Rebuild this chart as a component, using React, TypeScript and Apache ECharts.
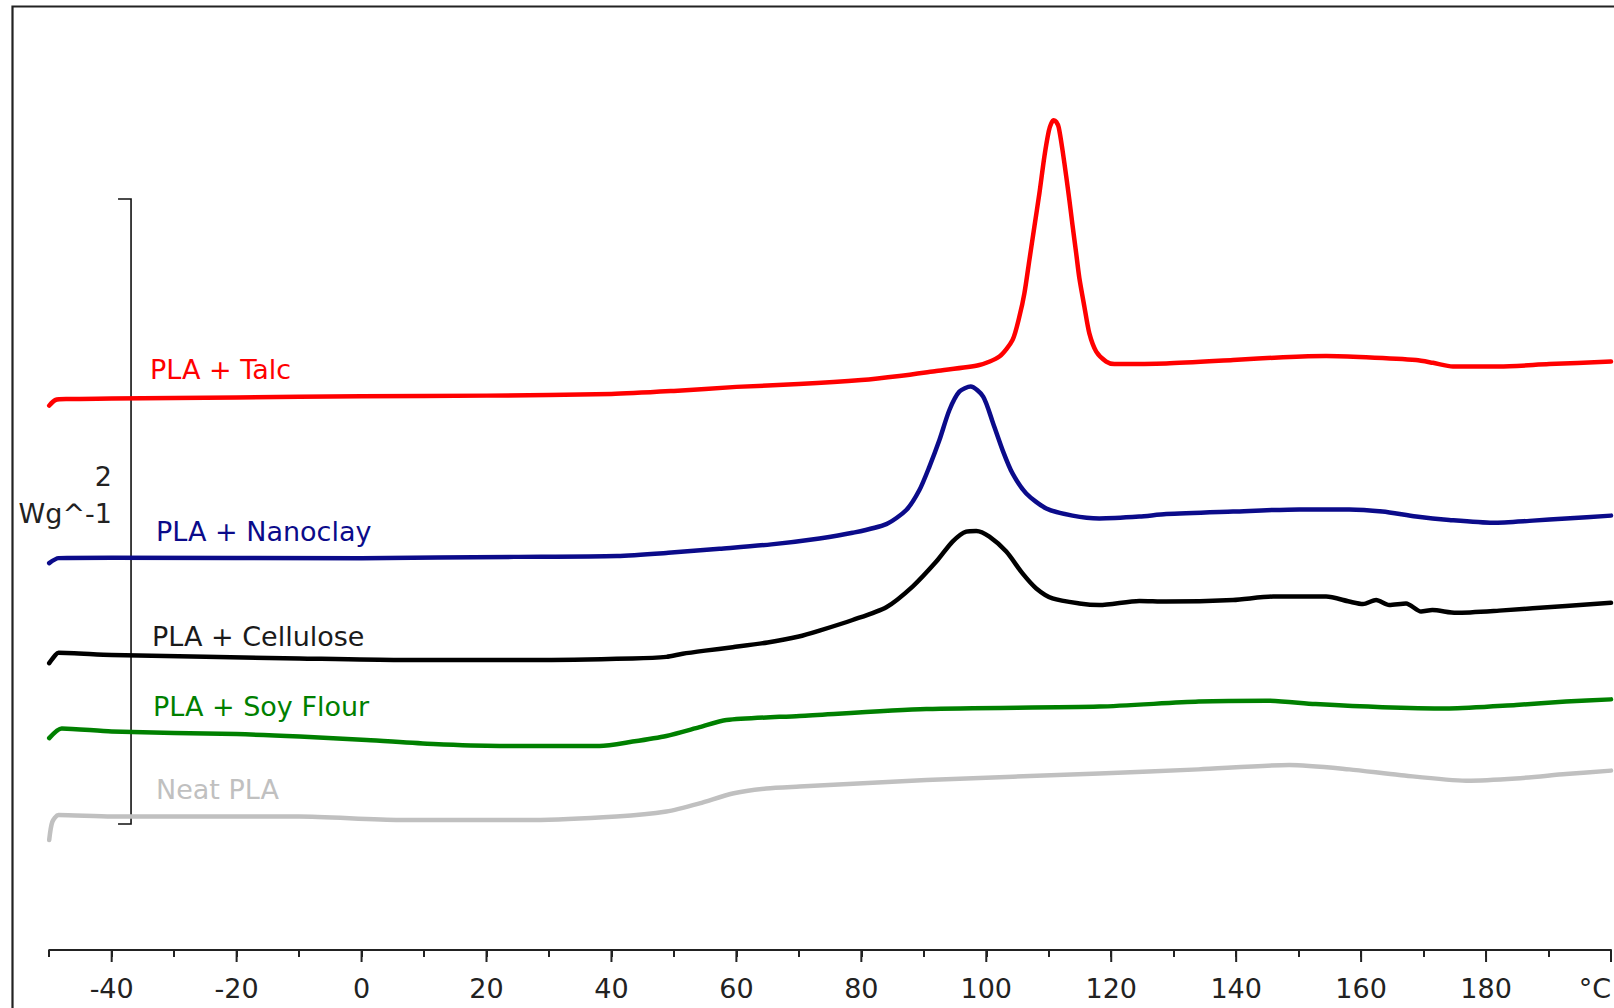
import React, { useEffect, useRef } from "react";
import * as echarts from "echarts";

// Temperature (°C) / heat flow (W/g, stacked offsets, 2 W/g scale bar)
const talc: [number, number][] = [
  [-50, 1.742], [-49, 1.760], [-47, 1.763], [-40, 1.765], [-20, 1.768], [0, 1.772], [20, 1.774],
  [40, 1.779], [50, 1.789], [60, 1.802], [70, 1.811], [80, 1.824], [86.1, 1.837], [92, 1.853],
  [98.9, 1.872], [102.1, 1.899], [104.2, 1.952], [105.3, 2.027], [106.1, 2.101], [106.9, 2.208],
  [107.7, 2.315], [108.5, 2.421], [109.3, 2.539], [110.0, 2.620], [110.4, 2.645], [110.8, 2.655],
  [111.2, 2.650], [111.6, 2.632], [112.2, 2.560], [112.8, 2.475], [113.3, 2.400], [113.8, 2.320],
  [114.4, 2.228], [114.9, 2.150], [115.7, 2.059], [116.5, 1.973], [117.6, 1.915], [119.2, 1.883],
  [120.5, 1.875], [128.8, 1.877], [139.5, 1.888], [147.5, 1.897], [154.4, 1.901], [160.8, 1.897],
  [168.8, 1.888], [171.5, 1.879], [174.7, 1.867], [182.1, 1.867], [190.1, 1.875], [200, 1.883],
];
const nanoclay: [number, number][] = [
  [-50, 1.238], [-48.5, 1.254], [-40, 1.255], [0, 1.254], [24.4, 1.258], [40.9, 1.261], [49.1, 1.271],
  [57.3, 1.284], [65.6, 1.298], [73.3, 1.317], [78.6, 1.335], [84.0, 1.363], [87.2, 1.408],
  [89.3, 1.472], [90.9, 1.547], [92.5, 1.632], [94.1, 1.728], [95.7, 1.787], [97.5, 1.803],
  [99.5, 1.771], [101.1, 1.685], [102.7, 1.595], [104.2, 1.525], [106.4, 1.461], [109.6, 1.413],
  [113.8, 1.390], [118.1, 1.381], [124.5, 1.387], [128.8, 1.395], [139.5, 1.403], [150.1, 1.410],
  [158.1, 1.410], [163.4, 1.403], [168.8, 1.387], [174.1, 1.376], [181.1, 1.367], [187.5, 1.374],
  [192.8, 1.381], [200, 1.390],
];
const cellulose: [number, number][] = [
  [-50, 0.918], [-49, 0.944], [-48.5, 0.951], [-40, 0.944], [-10, 0.933], [6, 0.928], [27.4, 0.928],
  [43.4, 0.933], [48.8, 0.938], [51.4, 0.948], [55, 0.958], [59.4, 0.969], [65, 0.984], [70, 1.003],
  [73.3, 1.022], [78.6, 1.056], [84, 1.097], [88.2, 1.163], [92, 1.243], [94.6, 1.307], [96.8, 1.339],
  [98.4, 1.341], [100.5, 1.323], [103.2, 1.275], [105.8, 1.205], [108, 1.157], [110.6, 1.125],
  [114.9, 1.109], [118.1, 1.104], [124.5, 1.117], [128.8, 1.115], [139.5, 1.120], [145.9, 1.131],
  [154.4, 1.131], [158.1, 1.115], [160.3, 1.107], [162.4, 1.120], [164.5, 1.104], [167.2, 1.109],
  [169.6, 1.083], [171.4, 1.088], [175.2, 1.079], [182.1, 1.086], [192.8, 1.101], [200, 1.111],
];
const soyFlour: [number, number][] = [
  [-50, 0.678], [-48, 0.709], [-40, 0.699], [-20, 0.691], [-9.9, 0.683], [0.8, 0.672], [11.5, 0.659],
  [22.1, 0.653], [38.1, 0.653], [43.4, 0.667], [48.8, 0.685], [54.1, 0.713], [58.4, 0.736],
  [70.1, 0.749], [90.4, 0.771], [118.1, 0.779], [134, 0.795], [144.7, 0.798], [152.7, 0.787],
  [163.4, 0.777], [174.1, 0.773], [184.8, 0.784], [192.8, 0.795], [200, 0.802],
];
const neatPLA: [number, number][] = [
  [-50, 0.352], [-49.5, 0.410], [-48.5, 0.432], [-40, 0.427], [-10, 0.427], [6.1, 0.416], [27.4, 0.416],
  [40.8, 0.427], [48.8, 0.443], [54.1, 0.469], [59.4, 0.501], [64.8, 0.517], [70.1, 0.523],
  [90.4, 0.544], [118.1, 0.565], [134, 0.578], [148.5, 0.592], [158.1, 0.578], [166.1, 0.560],
  [176.8, 0.542], [184.8, 0.549], [192.8, 0.563], [200, 0.574],
];

const seriesNames = ["PLA + Talc", "PLA + Nanoclay", "PLA + Cellulose", "PLA + Soy Flour", "Neat PLA"];
const seriesColors = ["#ff0000", "#0b0b8a", "#000000", "#008000", "#c0c0c0"];
const seriesData = [talc, nanoclay, cellulose, soyFlour, neatPLA];
const labelColors = ["#ff0000", "#0b0b8a", "#1a1a1a", "#008000", "#c0c0c0"];

const majorTicks = [-40, -20, 0, 20, 40, 60, 80, 100, 120, 140, 160, 180, 200];
const scaleBar: [number, number, number][] = [[-36.9, 0.403, 2.403]]; // 2 W/g
const scaleLabel = ["2", "Wg^-1"];

const FONT = '"DejaVu Sans", Verdana, sans-serif';

export default function App() {
  const ref = useRef<HTMLDivElement>(null);
  useEffect(() => {
    if (!ref.current) return;
    const chart = echarts.init(ref.current, null, { renderer: "svg" });
    const labelPos = [
      [150, 369],
      [156, 531],
      [152, 636],
      [153, 706],
      [156, 789],
    ];
    const option: any = {
      animation: false,
      backgroundColor: "#ffffff",
      grid: { left: 49.2, right: 2, top: 12.5, bottom: 58, containLabel: false },
      xAxis: {
        type: "value",
        min: -50,
        max: 200,
        interval: 10,
        splitLine: { show: false },
        axisLine: { show: true, onZero: false, lineStyle: { color: "#222", width: 2 } },
        axisTick: { show: true, length: 7, lineStyle: { color: "#222", width: 2 } },
        axisLabel: {
          margin: 25,
          fontSize: 27,
          fontFamily: FONT,
          color: "#222",
          alignMaxLabel: "right",
          formatter: (v: number) => (v === 200 ? "°C" : v % 20 === 0 ? String(v) : ""),
        },
      },
      yAxis: {
        type: "value",
        min: 0,
        max: 3,
        show: false,
        splitLine: { show: false },
      },
      series: [
        ...seriesData.map((d, i) => ({
          name: seriesNames[i],
          type: "line",
          data: d,
          showSymbol: false,
          smooth: 0.25,
          lineStyle: { color: seriesColors[i], width: 4.5, join: "round", cap: "round" },
          itemStyle: { color: seriesColors[i] },
          z: 10 - i,
        })),
        {
          type: "custom",
          silent: true,
          clip: false,
          data: majorTicks.map((v) => [v, 0]),
          encode: { x: 0, y: 1 },
          renderItem: (params: any, api: any) => {
            const p = api.coord([api.value(0), 0]);
            return {
              type: "line",
              shape: { x1: p[0], y1: p[1], x2: p[0], y2: p[1] + 12 },
              style: { stroke: "#222", lineWidth: 2 },
            };
          },
        },
        {
          type: "custom",
          silent: true,
          clip: false,
          data: scaleBar,
          encode: { x: 0, y: [1, 2] },
          renderItem: (params: any, api: any) => {
            const b = api.coord([api.value(0), api.value(1)]);
            const t = api.coord([api.value(0), api.value(2)]);
            return {
              type: "polyline",
              shape: {
                points: [
                  [t[0] - 13, t[1]],
                  [t[0], t[1]],
                  [b[0], b[1]],
                  [b[0] - 13, b[1]],
                ],
              },
              style: { stroke: "#111", lineWidth: 1.6, fill: null },
            };
          },
        },
      ],
      graphic: [
        {
          type: "polyline",
          silent: true,
          shape: { points: [[12.5, 1008], [12.5, 6.5], [1614, 6.5]] },
          style: { stroke: "#222", lineWidth: 2.2, fill: null },
        },
        ...seriesNames.map((n, i) => ({
          type: "text",
          silent: true,
          style: {
            text: n,
            x: labelPos[i][0],
            y: labelPos[i][1],
            fill: labelColors[i],
            font: `27px ${FONT}`,
            align: "left",
            verticalAlign: "middle",
          },
        })),
        {
          type: "text",
          silent: true,
          style: {
            text: scaleLabel[0],
            x: 112,
            y: 476,
            fill: "#222",
            font: `27px ${FONT}`,
            align: "right",
            verticalAlign: "middle",
          },
        },
        {
          type: "text",
          silent: true,
          style: {
            text: scaleLabel[1],
            x: 112,
            y: 513,
            fill: "#222",
            font: `27px ${FONT}`,
            align: "right",
            verticalAlign: "middle",
          },
        },
      ],
    };
    chart.setOption(option);
    return () => chart.dispose();
  }, []);
  return (
    <div
      ref={ref}
      style={{ position: "fixed", left: 0, top: 0, width: 1614, height: 1008, background: "#fff" }}
    />
  );
}
